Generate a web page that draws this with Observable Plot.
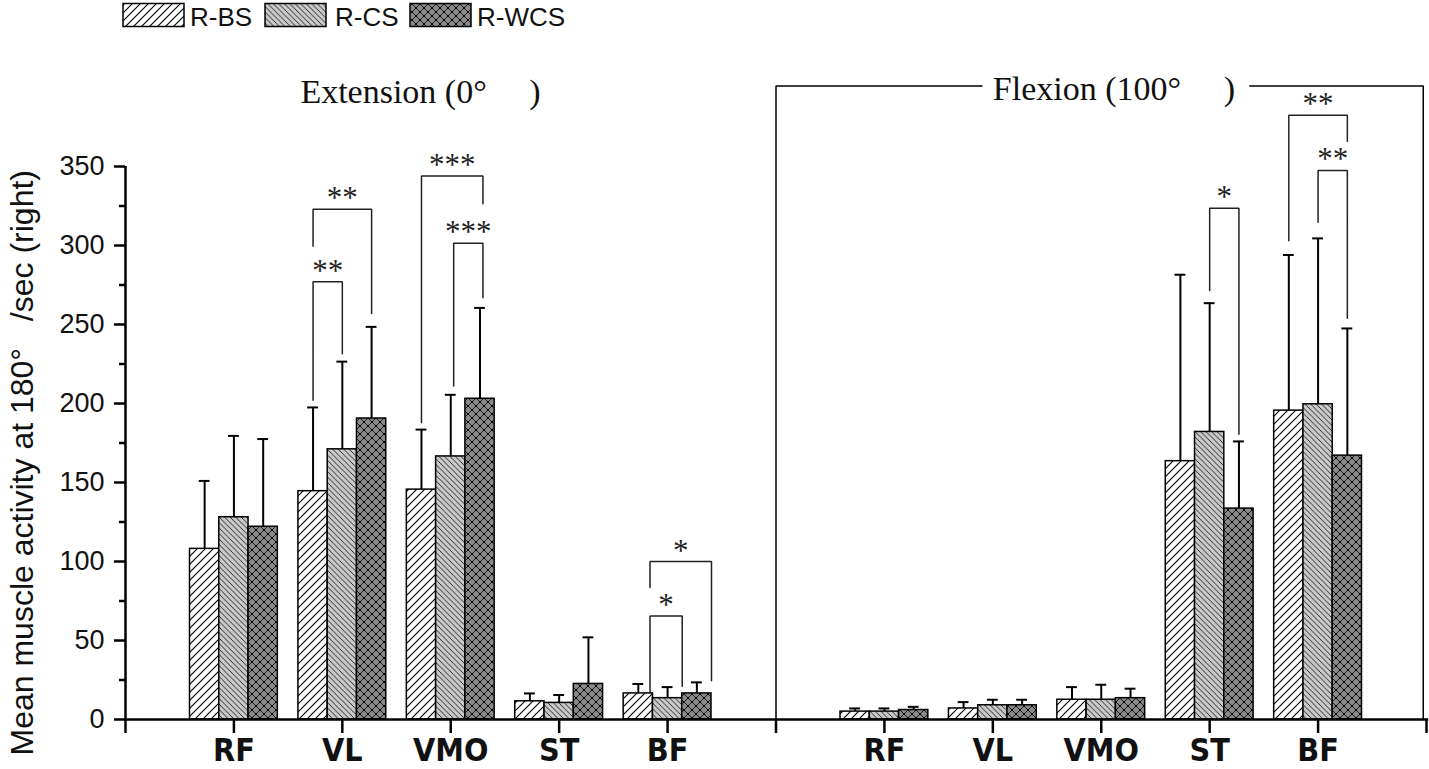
<!DOCTYPE html>
<html>
<head>
<meta charset="utf-8">
<script src="https://cdn.jsdelivr.net/npm/d3@7"></script>
<script src="https://cdn.jsdelivr.net/npm/@observablehq/plot@0.6"></script>
<style>
  html, body { margin: 0; padding: 0; background: #fff; overflow: hidden; }
  #legend { display: block; }
  #chart svg { display: block; }
</style>
</head>
<body>
<svg id="legend" width="1429" height="34" xmlns="http://www.w3.org/2000/svg">
  <defs>
    <pattern id="pBS" patternUnits="userSpaceOnUse" width="8" height="8">
      <rect width="8" height="8" fill="#ffffff"/>
      <path d="M-2,2 L2,-2 M0,8 L8,0 M6,10 L10,6" stroke="#000" stroke-width="1.1"/>
    </pattern>
    <pattern id="pCS" patternUnits="userSpaceOnUse" width="5.5" height="5.5">
      <rect width="5.5" height="5.5" fill="#c9c9c9"/>
      <path d="M-1.5,4 L1.5,7 M0,0 L5.5,5.5 M4,-1.5 L7,1.5" stroke="#1a1a1a" stroke-width="0.9"/>
    </pattern>
    <pattern id="pWCS" patternUnits="userSpaceOnUse" width="8" height="8">
      <rect width="8" height="8" fill="#8a8a8a"/>
      <path d="M0,0 L8,8 M0,8 L8,0" stroke="#111" stroke-width="0.9"/>
      <circle cx="4" cy="4" r="1.1" fill="#000"/>
      <circle cx="0" cy="0" r="1.1" fill="#000"/>
      <circle cx="8" cy="0" r="1.1" fill="#000"/>
      <circle cx="0" cy="8" r="1.1" fill="#000"/>
      <circle cx="8" cy="8" r="1.1" fill="#000"/>
    </pattern>
  </defs>
  <g id="legend-items" font-family="'Liberation Sans', Arial, sans-serif" font-size="26" fill="#111"></g>
</svg>
<div id="chart"></div>
<script>
// ---------------- data ----------------
const muscles = ["RF", "VL", "VMO", "ST", "BF"];
const seriesNames = ["R-BS", "R-CS", "R-WCS"];
const seriesPatterns = ["url(#pBS)", "url(#pCS)", "url(#pWCS)"];
const phaseTitles = ["Extension (0°\u00a0\u00a0\u00a0\u00a0\u00a0)", "Flexion (100°\u00a0\u00a0\u00a0\u00a0\u00a0)"];
const yAxisTitle = "Mean muscle activity at 180°\u00a0\u00a0\u00a0/sec (right)";

// Extension (0°): mean and top of error bar, per muscle
const extBS      = [108, 144.5, 145.5, 11.5, 16.5];
const extBSUp    = [151, 197.5, 183.5, 16.5, 22.5];
const extCS      = [128, 171, 166.5, 10.5, 13.5];
const extCSUp    = [179.5, 226.5, 205.5, 15.5, 20.5];
const extWCS     = [122, 190.5, 203, 22.5, 16.5];
const extWCSUp   = [177.5, 248.5, 260.5, 52, 23.5];
// Flexion (100°)
const flexBS     = [5, 7, 12.5, 163.5, 195.5];
const flexBSUp   = [7, 11, 20.5, 281.5, 294];
const flexCS     = [5, 9, 12.5, 182, 199.5];
const flexCSUp   = [7, 12.5, 22, 263.5, 304.5];
const flexWCS    = [6, 9, 13.5, 133.5, 167];
const flexWCSUp  = [8, 12.5, 19.5, 176, 247.5];

// y ticks
const yMajorTicks = [0, 50, 100, 150, 200, 250, 300, 350];
const yMinorTicks = [25, 75, 125, 175, 225, 275, 325];
// x tick labels at positions 0..12
const xTickLabels = ["", "RF", "VL", "VMO", "ST", "BF", "", "RF", "VL", "VMO", "ST", "BF", ""];

// significance brackets
const bracketPos      = [2, 2, 3, 3, 5, 5, 10, 11, 11];
const bracketFrom     = [0, 0, 0, 1.1, 0.4, 0.4, 1, 0, 1];
const bracketTo       = [1, 2, 2.1, 2.1, 2.5, 1.5, 2, 2, 2];
const bracketTop      = [277, 323, 344, 301.5, 100, 65.5, 323.5, 382.5, 347.5];
const bracketLeftEnd  = [202, 299.5, 188, 211, 83.5, 17, 271.5, 303, 314.5];
const bracketRightEnd = [231.5, 257, 326.5, 267, 24.5, 21, 180.5, 366, 254];
const bracketLabel    = ["**", "**", "***", "***", "*", "*", "*", "**", "**"];

// section frame and titles
const frameTop = 401;
const frameDivider = 6;
const frameRight = 11.97;
const frameGap = [7.9, 10.37];
const titleX = [1.613, 8.0];
const titleY = [390, 392.4];

// ---------------- build tables ----------------
const BAR_STEP = 0.27, BAR_W = 0.27, CAP = 0.05;
const means = [[extBS, extCS, extWCS], [flexBS, flexCS, flexWCS]];
const uppers = [[extBSUp, extCSUp, extWCSUp], [flexBSUp, flexCSUp, flexWCSUp]];
const rows = [];
for (let p = 0; p < 2; p++) {
  for (let s = 0; s < 3; s++) {
    for (let m = 0; m < muscles.length; m++) {
      const pos = 1 + m + 6 * p;
      rows.push({phase: p, series: s, muscle: muscles[m], x: pos + (s - 1) * BAR_STEP,
                 mean: means[p][s][m], upper: uppers[p][s][m]});
    }
  }
}
const slotX = (pos, slot) => pos + (slot - 1) * BAR_STEP;
const bracketPts = [];
const bracketText = [];
bracketPos.forEach((pos, i) => {
  const xl = slotX(pos, bracketFrom[i]), xr = slotX(pos, bracketTo[i]);
  bracketPts.push({id: i, x: xl, y: bracketLeftEnd[i]}, {id: i, x: xl, y: bracketTop[i]},
                  {id: i, x: xr, y: bracketTop[i]}, {id: i, x: xr, y: bracketRightEnd[i]});
  bracketText.push({x: (xl + xr) / 2, y: bracketTop[i], label: bracketLabel[i]});
});
const framePts = [
  {id: 0, x: frameDivider, y: 0}, {id: 0, x: frameDivider, y: frameTop}, {id: 0, x: frameGap[0], y: frameTop},
  {id: 1, x: frameGap[1], y: frameTop}, {id: 1, x: frameRight, y: frameTop}, {id: 1, x: frameRight, y: 0}
];
const titles = phaseTitles.map((t, i) => ({text: t, x: titleX[i], y: titleY[i]}));

// ---------------- legend ----------------
const legendSwatchX = [123, 265, 410];
const legendTextX = [190, 335, 477];
const lg = d3.select("#legend-items");
seriesNames.forEach((name, i) => {
  lg.append("rect").attr("x", legendSwatchX[i]).attr("y", 3.5).attr("width", 61).attr("height", 23)
    .attr("fill", seriesPatterns[i]).attr("stroke", "#000").attr("stroke-width", 1.5);
  lg.append("text").attr("x", legendTextX[i]).attr("y", 25.5).text(name);
});

// ---------------- plot ----------------
const sans = "'Liberation Sans', Arial, sans-serif";
const serif = "'Liberation Serif', 'Times New Roman', serif";
const marks = [];
for (let s = 0; s < 3; s++) {
  marks.push(Plot.rect(rows.filter(d => d.series === s), {
    x1: d => d.x - BAR_W / 2, x2: d => d.x + BAR_W / 2, y1: 0, y2: "mean",
    fill: seriesPatterns[s], stroke: "#000", strokeWidth: 1.5
  }));
}
marks.push(
  Plot.ruleX(rows, {x: "x", y1: "mean", y2: "upper", stroke: "#000", strokeWidth: 2}),
  Plot.ruleY(rows, {y: "upper", x1: d => d.x - CAP, x2: d => d.x + CAP, stroke: "#000", strokeWidth: 2}),
  Plot.line(bracketPts, {x: "x", y: "y", z: "id", stroke: "#222", strokeWidth: 1.5, strokeLinejoin: "miter"}),
  Plot.text(bracketText, {x: "x", y: "y", text: "label", lineAnchor: "bottom", dy: -1,
    fontFamily: serif, fontSize: 31, fill: "#222"}),
  Plot.line(framePts, {x: "x", y: "y", z: "id", stroke: "#000", strokeWidth: 1.5, strokeLinejoin: "miter"}),
  Plot.text(titles, {x: "x", y: "y", text: "text", textAnchor: "start", lineAnchor: "bottom",
    fontFamily: serif, fontSize: 34, fill: "#111"}),
  Plot.text([yAxisTitle], {x: -0.95, y: 162.5, text: d => d, rotate: -90,
    fontFamily: sans, fontSize: 32, fill: "#111"}),
  Plot.axisY({ticks: yMajorTicks, tickSize: 11, tickPadding: 10, fontSize: 27, fontFamily: sans,
    strokeWidth: 2.5, label: null, fill: "#111"}),
  Plot.axisY({ticks: yMinorTicks, tickSize: 6, tickFormat: () => "", strokeWidth: 2.5, label: null}),
  Plot.axisX({ticks: d3.range(0, 13), tickSize: 14, tickPadding: 5, tickFormat: i => xTickLabels[i],
    fontSize: 32, fontWeight: "bold", fontFamily: "'DejaVu Sans Condensed', 'DejaVu Sans', sans-serif",
    strokeWidth: 2.5, label: null, fill: "#111"}),
  Plot.ruleY([0], {x1: 0, x2: 12.02, stroke: "#000", strokeWidth: 2.5}),
  Plot.ruleX([0], {y1: 0, y2: 350, stroke: "#000", strokeWidth: 2.5})
);

const chart = Plot.plot({
  width: 1429, height: 735,
  marginLeft: 125, marginRight: 3, marginTop: 132, marginBottom: 50,
  x: {domain: [0, 12], axis: null},
  y: {domain: [0, 350], axis: null},
  style: {background: "transparent", overflow: "visible"},
  marks
});
document.getElementById("chart").appendChild(chart);
</script>
</body>
</html>
